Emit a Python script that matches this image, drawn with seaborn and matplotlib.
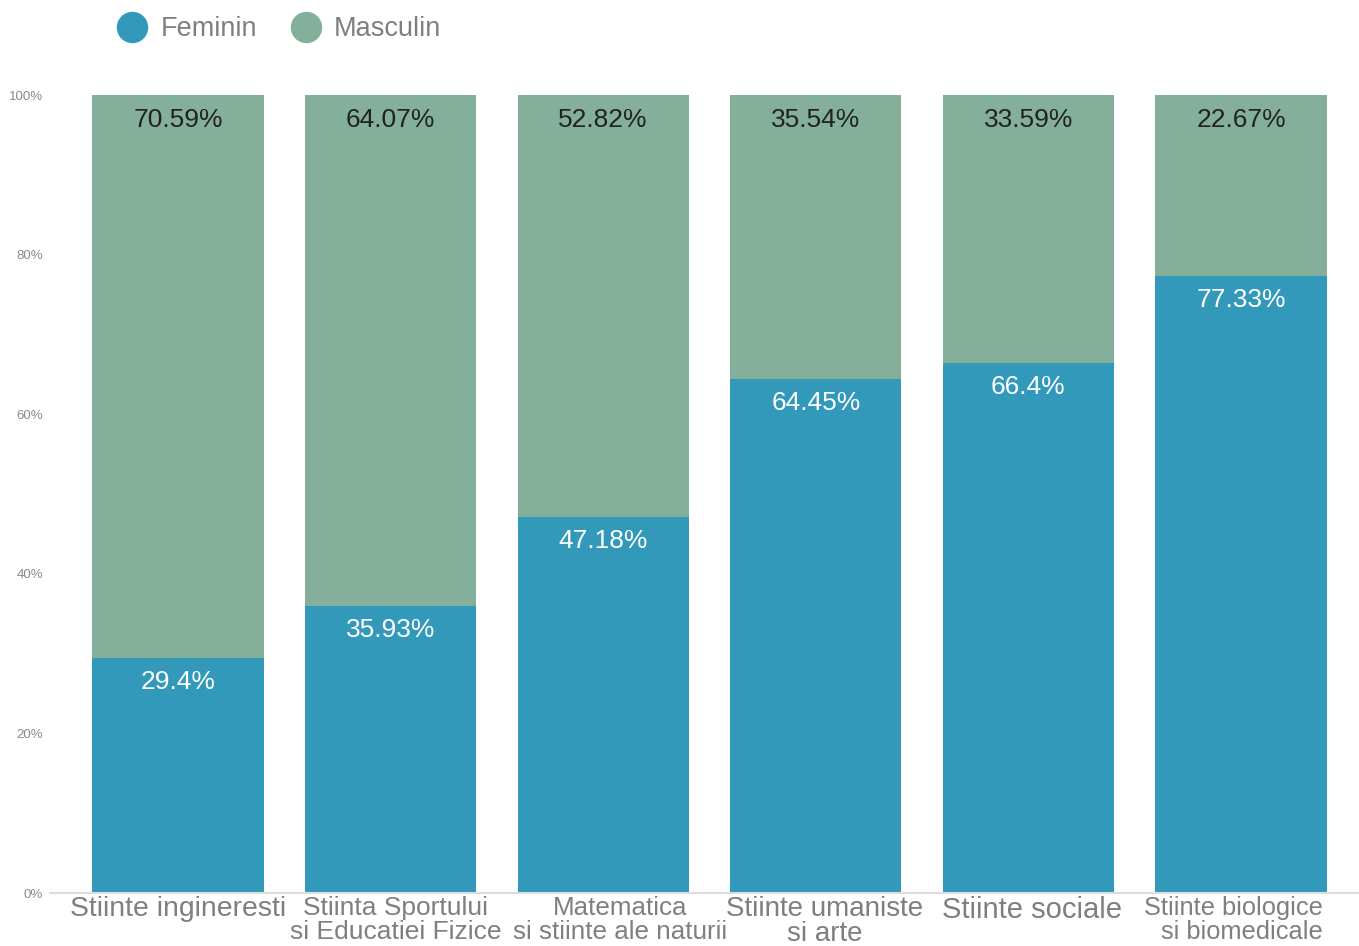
import matplotlib
matplotlib.use("Agg")
import matplotlib.pyplot as plt
import matplotlib.transforms as mtransforms
import seaborn as sns
import pandas as pd
from matplotlib.lines import Line2D

categories = ["Stiinte ingineresti", "Stiinta Sportului\nsi Educatiei Fizice",
              "Matematica\nsi stiinte ale naturii", "Stiinte umaniste\nsi arte",
              "Stiinte sociale", "Stiinte biologice\nsi biomedicale"]
feminin = [29.4, 35.93, 47.18, 64.45, 66.4, 77.33]
masculin = [70.59, 64.07, 52.82, 35.54, 33.59, 22.67]
feminin_labels = ["29.4%", "35.93%", "47.18%", "64.45%", "66.4%", "77.33%"]
masculin_labels = ["70.59%", "64.07%", "52.82%", "35.54%", "33.59%", "22.67%"]
yticks = [0, 20, 40, 60, 80, 100]
ytick_labels = ["0%", "20%", "40%", "60%", "80%", "100%"]

C_FEM = "#3399bb"
C_MAS = "#84b09b"

sns.set_theme(style="white")
plt.rcParams["font.family"] = ["Liberation Sans", "DejaVu Sans"]

W, H = 1359, 946
fig = plt.figure(figsize=(W / 100, H / 100), dpi=100)
ax = fig.add_axes([50 / W, (H - 893) / H, (W - 50) / W, (893 - 95) / H])

df = pd.DataFrame({"cat": categories, "fem": feminin, "mas": masculin})
df["total"] = df["fem"] + df["mas"]

sns.barplot(data=df, x="cat", y="total", color=C_MAS, saturation=1, width=0.805,
            linewidth=0, edgecolor="none", ax=ax)
sns.barplot(data=df, x="cat", y="fem", color=C_FEM, saturation=1, width=0.805,
            linewidth=0, edgecolor="none", ax=ax)

for i in range(len(categories)):
    ax.annotate(masculin_labels[i], xy=(i, df["total"][i]), xytext=(0, -25),
                textcoords="offset pixels", ha="center", va="center",
                fontsize=19, color="#222222")
    ax.annotate(feminin_labels[i], xy=(i, feminin[i]), xytext=(0, -24),
                textcoords="offset pixels", ha="center", va="center",
                fontsize=19, color="white")

ax.set_xlim(-0.602, 5.555)
ax.set_ylim(0, 100)
ax.set_yticks(yticks)
ax.set_yticklabels(ytick_labels, fontsize=9.5, color="#8a8a8a")
ax.tick_params(axis="y", length=0, pad=5)
ax.tick_params(axis="x", length=0, pad=2.5)
ax.set_xlabel("")
ax.set_ylabel("")

ax.set_xticks(range(len(categories)))
ax.set_xticklabels(categories)
sizes = [20.4, 19, 18.7, 20, 21, 18.3]
aligns = ["center", "center", "center", "center", "center", "right"]
offsets = [0, 5, 17, 9, 4, -7.5]
for lab, s, a, dx in zip(ax.get_xticklabels(), sizes, aligns, offsets):
    lab.set_fontsize(s)
    lab.set_color("#7f7f7f")
    lab.set_linespacing(0.95)
    lab.set_multialignment(a)
    lab.set_transform(lab.get_transform() +
                      mtransforms.ScaledTranslation(dx / 100, 0, fig.dpi_scale_trans))

for sp in ["top", "left", "right"]:
    ax.spines[sp].set_visible(False)
ax.spines["bottom"].set_color("#dddddd")
ax.spines["bottom"].set_linewidth(1.5)

handles = [Line2D([], [], marker="o", linestyle="", markersize=21.6, color=C_FEM),
           Line2D([], [], marker="o", linestyle="", markersize=21.6, color=C_MAS)]
leg = fig.legend(handles, ["Feminin", "Masculin"], loc="center left",
                 bbox_to_anchor=(105 / W, 1 - 29 / H), ncol=2, frameon=False,
                 fontsize=19.5, handletextpad=0.45, columnspacing=1.2,
                 handlelength=1.2, borderaxespad=0)
for t in leg.get_texts():
    t.set_color("#7f7f7f")

fig.savefig("out.png", dpi=100)
